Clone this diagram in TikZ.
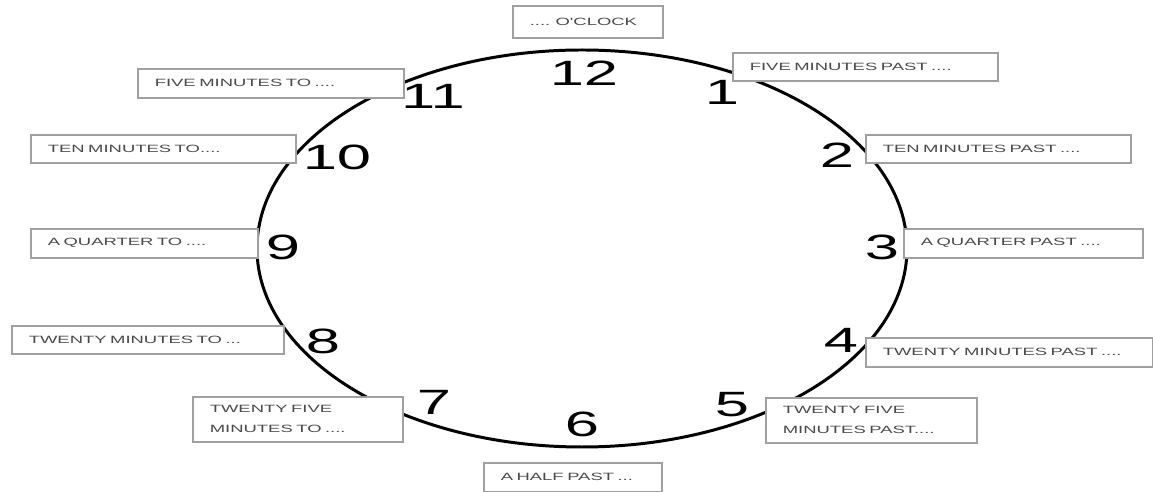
\documentclass[tikz,border=0pt]{standalone}
\usepackage{fontspec}
\newfontfamily\widesans[FakeStretch=1.75]{Liberation Sans}
\definecolor{BoxGrey}{HTML}{A0A0A0}
\definecolor{TextGrey}{HTML}{4A4A4A}
\usetikzlibrary{positioning}

\begin{document}
\begin{tikzpicture}[x=0.02cm, y=-0.02cm,
  hour/.style={font=\widesans\fontsize{20}{24}\selectfont, inner sep=0pt},
  timebox/.style={draw=BoxGrey, line width=0.9pt, fill=white, anchor=north west,
    inner xsep=0.34cm, inner ysep=0pt, align=left, text=TextGrey,
    font=\widesans\fontsize{6}{11.3}\selectfont}]
  \useasboundingbox (0,0) rectangle (1153,492);
  %% dial
  \draw[line width=1.7pt] (582,248.5) ellipse [x radius=325, y radius=198.5];
  %% hours
  \node[hour] (h12) at (584,73) {12};
  \node[hour] (h1) at (722,92) {1};
  \node[hour] (h2) at (837,155) {2};
  \node[hour] (h3) at (882,247) {3};
  \node[hour] (h4) at (841,340) {4};
  \node[hour] (h5) at (732,405) {5};
  \node[hour] (h6) at (582,424) {6};
  \node[hour] (h7) at (434,402) {7};
  \node[hour] (h8) at (323,341) {8};
  \node[hour] (h9) at (283,247) {9};
  \node[hour] (h10) at (337,157) {10};
  \node[hour] (h11) at (433,96) {11};
  %% labels
  \node[timebox, text width=2.32cm, minimum height=0.64cm] (oclock) at (512,5) {.... O'CLOCK};
  \node[timebox, text width=4.62cm, minimum height=0.56cm] (fivepast) at (732,52) {FIVE MINUTES PAST ....};
  \node[timebox, text width=4.62cm, minimum height=0.56cm] (tenpast) at (865,134) {TEN MINUTES PAST ....};
  \node[timebox, text width=4.10cm, minimum height=0.58cm] (quarterpast) at (903,228) {A QUARTER PAST ....};
  \node[timebox, text width=5.06cm, minimum height=0.58cm] (twentypast) at (865,337) {TWENTY MINUTES PAST ....};
  \node[timebox, text width=3.54cm, minimum height=0.90cm] (twentyfivepast) at (765,397) {TWENTY FIVE\\MINUTES PAST....};
  \node[timebox, text width=2.88cm, minimum height=0.58cm] (halfpast) at (483,462) {A HALF PAST ...};
  \node[timebox, text width=3.52cm, minimum height=0.90cm] (twentyfiveto) at (192,396) {TWENTY FIVE\\MINUTES TO ....};
  \node[timebox, text width=4.76cm, minimum height=0.56cm] (twentyto) at (11,325) {TWENTY MINUTES TO ...};
  \node[timebox, text width=3.86cm, minimum height=0.58cm] (quarterto) at (30,228) {A QUARTER TO ....};
  \node[timebox, text width=4.62cm, minimum height=0.56cm] (tento) at (30,134) {TEN MINUTES TO....};
  \node[timebox, text width=4.64cm, minimum height=0.58cm] (fiveto) at (137,68) {FIVE MINUTES TO ....};
\end{tikzpicture}
\end{document}
